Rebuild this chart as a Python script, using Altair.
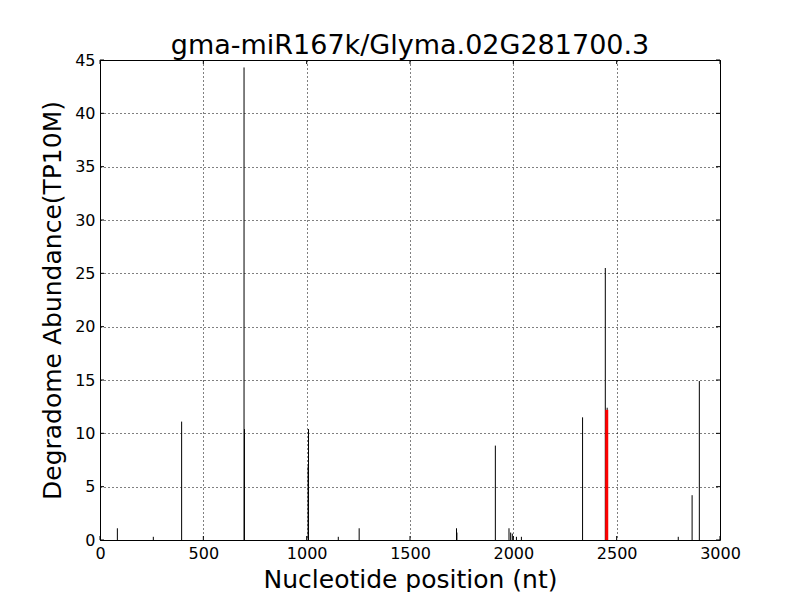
import altair as alt
import pandas as pd

# ---- data ----
positions = [84, 258, 395, 697, 699, 1007, 1009, 1153, 1254, 1725, 1727, 1913,
             1979, 1987, 1995, 2015, 2039, 2335, 2445, 2454, 2798, 2865, 2900]
values = [1.1, 0.3, 11.1, 44.3, 10.4, 6.9, 10.4, 0.3, 1.1, 1.1, 0.7, 8.85,
          1.1, 0.7, 0.6, 0.3, 0.3, 11.5, 25.5, 12.4, 0.3, 4.2, 14.9]
cleave_pos = [2452]
cleave_val = [12.2]
x_ticks = [0, 500, 1000, 1500, 2000, 2500, 3000]
y_ticks = [0, 5, 10, 15, 20, 25, 30, 35, 40, 45]

TITLE = "gma-miR167k/Glyma.02G281700.3"
XTITLE = "Nucleotide position (nt)"
YTITLE = "Degradome Abundance(TP10M)"

W, H = 620, 480
FONT = "DejaVu Sans"

xs = alt.Scale(domain=[0, 3000], nice=False, zero=False)
ys = alt.Scale(domain=[0, 45], nice=False)

bars_df = pd.DataFrame({"pos": positions, "val": values})
red_df = pd.DataFrame({"pos": cleave_pos, "val": cleave_val})
xt_df = pd.DataFrame({"pos": x_ticks})
yt_df = pd.DataFrame({"val": y_ticks})

x_axis = alt.Axis(values=x_ticks, format="d", grid=True, gridColor="black",
                  gridDash=[1, 3], gridWidth=1, gridOpacity=1, ticks=False, tickSize=0,
                  domain=False, labelFontSize=16, labelFont=FONT, labelColor="black",
                  labelPadding=5, labelFlush=False, labelOverlap=False,
                  title=XTITLE, titleFontSize=25, titleFont=FONT,
                  titleFontWeight="normal", titleColor="black",
                  titleX=W / 2, titleY=39, titleBaseline="middle", titleAlign="center")
y_axis = alt.Axis(values=y_ticks, format="d", grid=True, gridColor="black",
                  gridDash=[1, 3], gridWidth=1, gridOpacity=1, ticks=False, tickSize=0,
                  domain=False, labelFontSize=16, labelFont=FONT, labelColor="black",
                  labelPadding=5, labelFlush=False, labelOverlap=False,
                  title=YTITLE, titleFontSize=25, titleFont=FONT,
                  titleFontWeight="normal", titleColor="black", titleAngle=270,
                  titleX=-48, titleY=H / 2, titleBaseline="middle", titleAlign="center")

X = alt.X("pos:Q", scale=xs, axis=x_axis)
Y = alt.Y("val:Q", scale=ys, axis=y_axis)

bars = alt.Chart(bars_df).mark_rule(color="black", strokeWidth=1).encode(
    x=X, y=Y, y2=alt.Y2(datum=0),
)
red = alt.Chart(red_df).mark_rule(color="#ff0000", strokeWidth=3).encode(
    x=X, y=Y, y2=alt.Y2(datum=0),
)
xt_bottom = alt.Chart(xt_df).mark_rule(color="black").encode(
    x=X, y=alt.value(H), y2=alt.value(H - 4))
xt_top = alt.Chart(xt_df).mark_rule(color="black").encode(
    x=X, y=alt.value(0), y2=alt.value(4))
yt_left = alt.Chart(yt_df).mark_rule(color="black").encode(
    y=Y, x=alt.value(0), x2=alt.value(4))
yt_right = alt.Chart(yt_df).mark_rule(color="black").encode(
    y=Y, x=alt.value(W), x2=alt.value(W - 4))

chart = alt.layer(bars, red, xt_bottom, xt_top, yt_left, yt_right).properties(
    width=W, height=H,
    title=alt.TitleParams(TITLE, fontSize=27, font=FONT, fontWeight="normal",
                          color="black", anchor="middle", frame="group",
                          offset=4, dy=12),
    autosize=alt.AutoSizeParams(type="none"),
    padding={"left": 92, "top": 52, "right": 72, "bottom": 52},
    background="white",
).configure_view(stroke="black", strokeWidth=1)

chart.save("out.html", embed_options={"renderer": "svg", "actions": False})
